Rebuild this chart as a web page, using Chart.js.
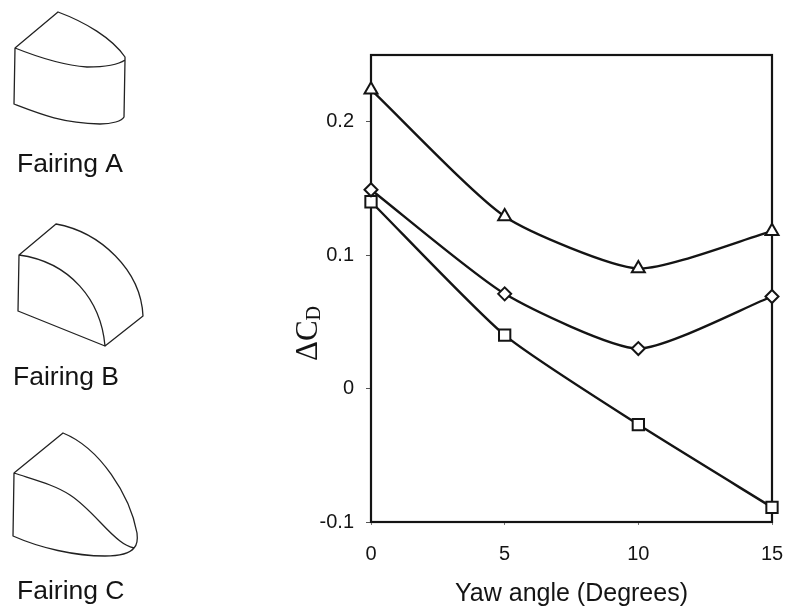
<!DOCTYPE html>
<html><head><meta charset="utf-8">
<style>html,body{margin:0;padding:0;background:#fff}#w{width:785px;height:609px;position:relative}</style>
<script src="https://cdn.jsdelivr.net/npm/chart.js@4"></script>
</head><body><div id="w"><canvas id="c" width="785" height="609"></canvas></div>
<script>
const yawAngles=[0,5,10,15];
const triangleSeries=[0.224,0.129,0.09,0.118];
const diamondSeries=[0.149,0.071,0.03,0.069];
const squareSeries=[0.14,0.04,-0.027,-0.089];
const xTicks=[0,5,10,15];
const yTicks=[-0.1,0,0.1,0.2];
const xTitle='Yaw angle (Degrees)';
const fairingLabels=[['Fairing A',17,172],['Fairing B',13,385],['Fairing C',17,599]];
const INK='#141414';
const SANS='"Liberation Sans", Arial, sans-serif';
const pts=a=>a.map((v,i)=>({x:yawAngles[i],y:v}));
function ds(label,data,style,radius){return{label,data:pts(data),borderColor:INK,borderWidth:2.4,backgroundColor:'#fff',
 pointStyle:style,pointRadius:radius,pointBorderWidth:2,pointBorderColor:INK,pointBackgroundColor:'#fff',tension:0.2,clip:false};}
const decor={id:'decor',
 beforeDatasetsDraw(ch){const{ctx,chartArea:a}=ch;ctx.save();ctx.strokeStyle=INK;ctx.lineWidth=2.2;
  ctx.strokeRect(a.left,a.top,a.right-a.left,a.bottom-a.top);ctx.restore();},
 afterDraw(ch){const ctx=ch.ctx;ctx.save();ctx.fillStyle=INK;ctx.strokeStyle='#222';ctx.lineWidth=1.3;ctx.lineJoin='round';
  ctx.font='26.5px '+SANS;ctx.textBaseline='alphabetic';ctx.textAlign='left';
  fairingLabels.forEach(([t,x,y])=>ctx.fillText(t,x,y));
  const p=(s)=>{ctx.stroke(new Path2D(s));};
  p('M15 48L58 12C85 22 112 38 125 57L125 60C118 65 105 67 87 67C60 65 35 56 15 48L14 104C40 114 62 123 100 124C112 124 122 121 124 117L125 60');
  p('M19 255L56 224C100 232 141 270 143 316L105 346C101 300 70 262 19 255L18 311L105 346');
  p('M14 473L63 433C100 448 130 495 137 533C138 541 137 545 134 548C130 547 125 545 120 541C105 530 90 508 70 495C55 485 35 480 14 473L13 536C40 548 75 556 105 556C120 556 130 553 134 548');
  ctx.translate(317,361);ctx.rotate(-Math.PI/2);ctx.font='31px "Liberation Serif", serif';ctx.fillText('ΔC',0,0);
  const w=ctx.measureText('ΔC').width;ctx.font='20px "Liberation Serif", serif';ctx.fillText('D',w,3);
  ctx.restore();}};
new Chart(document.getElementById('c'),{type:'line',
 data:{datasets:[ds('Fairing A',triangleSeries,'triangle',7.5),ds('Fairing B',diamondSeries,'rectRot',6.5),ds('Fairing C',squareSeries,'rect',8)]},
 plugins:[decor],
 options:{responsive:false,animation:false,devicePixelRatio:1,
  layout:{padding:{left:0,right:13,top:55,bottom:0}},
  plugins:{legend:{display:false},title:{display:false},tooltip:{enabled:false}},
  scales:{
   x:{type:'linear',min:0,max:15,
    afterBuildTicks(s){s.ticks=xTicks.map(v=>({value:v}));},
    afterFit(s){s.height=87;s.paddingLeft=0;s.paddingRight=0;},
    grid:{display:true,drawOnChartArea:false,drawTicks:true,tickLength:3,color:'#777',lineWidth:1},
    border:{display:false},
    ticks:{color:INK,font:{family:SANS,size:20},padding:17,maxRotation:0,autoSkip:false,callback:v=>String(v)},
    title:{display:true,text:xTitle,color:INK,font:{family:SANS,size:25},padding:{top:13,bottom:0}}},
   y:{type:'linear',min:-0.1,max:0.25,
    afterBuildTicks(s){s.ticks=yTicks.map(v=>({value:v}));},
    afterFit(s){s.width=371;s.paddingTop=0;s.paddingBottom=0;},
    grid:{display:true,drawOnChartArea:false,drawTicks:true,tickLength:5,color:'#555',lineWidth:1},
    border:{display:false},
    ticks:{color:INK,font:{family:SANS,size:20},padding:12,autoSkip:false,callback:v=>String(Math.round(v*10)/10)}}
  }}});
</script></body></html>
